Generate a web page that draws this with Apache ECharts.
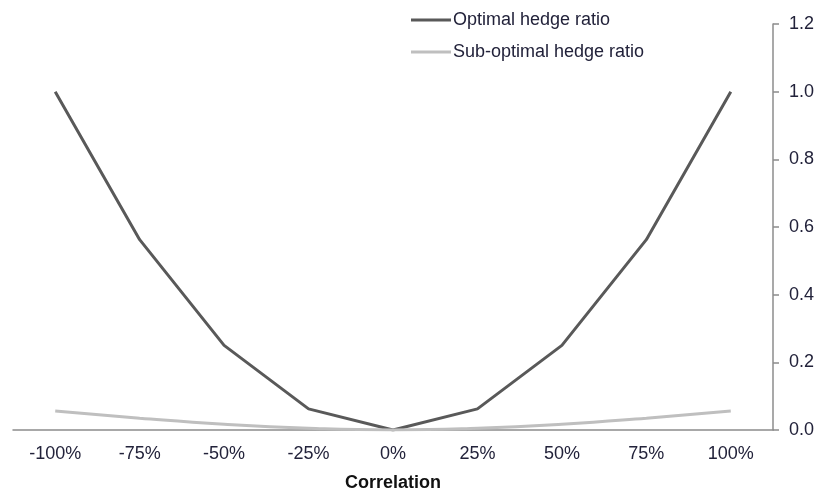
<!DOCTYPE html>
<html>
<head>
<meta charset="utf-8">
<script src="https://cdn.jsdelivr.net/npm/echarts@6/dist/echarts.min.js"></script>
<style>html,body{margin:0;padding:0;background:#fff}#c{width:822px;height:495px}</style>
</head>
<body>
<div id="c"></div>
<script>
const categories = ['-100%', '-75%', '-50%', '-25%', '0%', '25%', '50%', '75%', '100%'];
const optimal = [1.0, 0.5625, 0.25, 0.0625, 0, 0.0625, 0.25, 0.5625, 1.0];
const subOptimal = [0.056, 0.035, 0.017, 0.005, 0, 0.005, 0.017, 0.035, 0.056];
const yTicks = [0, 0.2, 0.4, 0.6, 0.8, 1.0, 1.2];

const chart = echarts.init(document.getElementById('c'));
chart.setOption({
  animation: false,
  textStyle: { fontFamily: 'Liberation Sans, Arial, sans-serif' },
  grid: { left: 13, right: 49, top: 24, bottom: 65, containLabel: false, outerBoundsMode: 'none' },
  legend: {
    orient: 'vertical', left: 406, top: 6,
    itemWidth: 40, itemHeight: 3, itemGap: 14,
    icon: 'rect',
    textStyle: { fontSize: 18, color: '#22223a', padding: [0, 0, 0, -3] },
    data: ['Optimal hedge ratio', 'Sub-optimal hedge ratio']
  },
  xAxis: {
    type: 'category', data: categories, boundaryGap: true,
    name: 'Correlation', nameLocation: 'middle', nameGap: 44,
    nameTextStyle: { fontSize: 18, fontWeight: 'bold', color: '#111' },
    axisLine: { lineStyle: { color: '#8c8c8c', width: 1.5 } },
    axisTick: { length: 6, lineStyle: { color: '#8c8c8c', width: 1.5 } },
    axisLabel: { fontSize: 18, color: '#22223a', margin: 15 }
  },
  yAxis: {
    type: 'value', position: 'right', min: 0, max: 1.2, interval: 0.2,
    splitLine: { show: false },
    axisLine: { show: true, lineStyle: { color: '#8c8c8c', width: 1.5 } },
    axisTick: { show: true, length: 6, lineStyle: { color: '#8c8c8c', width: 1.5 } },
    axisLabel: { fontSize: 18, color: '#22223a', margin: 16,
      formatter: v => yTicks.includes(+v.toFixed(1)) ? v.toFixed(1) : '' }
  },
  series: [
    { name: 'Optimal hedge ratio', type: 'line', data: optimal, symbol: 'none',
      lineStyle: { color: '#595959', width: 3 }, itemStyle: { color: '#595959' } },
    { name: 'Sub-optimal hedge ratio', type: 'line', data: subOptimal, symbol: 'none', smooth: true,
      lineStyle: { color: '#bfbfbf', width: 3 }, itemStyle: { color: '#bfbfbf' } }
  ]
});
</script>
</body>
</html>
